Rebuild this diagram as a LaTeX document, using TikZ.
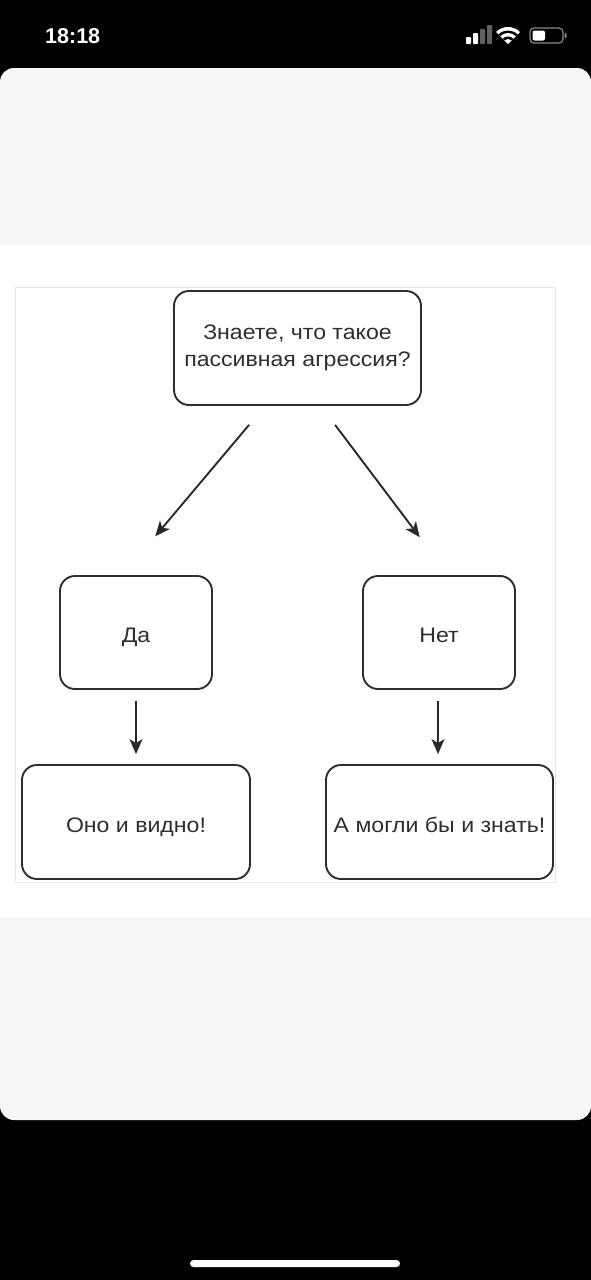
\documentclass[tikz,border=0pt]{standalone}
\usepackage{fontspec}
\setmainfont{Liberation Sans}
\newfontfamily\boxfont[FakeStretch=1.1]{Liberation Sans}
\usetikzlibrary{arrows.meta}
\definecolor{ink}{HTML}{2E2E2E}
\definecolor{cardgray}{HTML}{F7F7F7}
\definecolor{framegray}{HTML}{E6E6E6}
\definecolor{icongray}{HTML}{8A8A8A}
\tikzset{
  box/.style={draw=ink, line width=1.9pt, rounded corners=15pt, fill=white, text=ink,
    inner sep=0pt, font=\boxfont\fontsize{21}{27}\selectfont},
  oneline/.style={text height=20pt, text depth=0pt},
  arr/.style={draw=ink!90!black, line width=1.9pt, -{Stealth[length=15pt,width=13pt,inset=4pt]}},
}
\begin{document}
\begin{tikzpicture}[x=1pt,y=-1pt]
\useasboundingbox (0,0) rectangle (591,1280);
% phone background
\fill[black] (0,0) rectangle (591,1280);
% status bar
\node[text=white, anchor=west, font=\bfseries\fontsize{21.5}{21.5}\selectfont, inner sep=0pt] (clock) at (45,36) {18:18};
\fill[white, rounded corners=0.8pt] (466,37) rectangle (471,44);
\fill[white, rounded corners=0.8pt] (473,33) rectangle (478,44);
\fill[icongray!70!black, rounded corners=0.8pt] (480,29) rectangle (485,44);
\fill[icongray!70!black, rounded corners=0.8pt] (487,25) rectangle (492,44);
% wifi
\fill[white] (508,44) -- ++(225:17) arc[start angle=225,end angle=315,radius=17] -- cycle;
\fill[black] (508,44) -- ++(225:13.5) arc[start angle=225,end angle=315,radius=13.5] -- cycle;
\fill[white] (508,44) -- ++(225:11) arc[start angle=225,end angle=315,radius=11] -- cycle;
\fill[black] (508,44) -- ++(225:7.5) arc[start angle=225,end angle=315,radius=7.5] -- cycle;
\fill[white] (508,44) -- ++(225:5) arc[start angle=225,end angle=315,radius=5] -- cycle;
% battery
\draw[icongray, line width=1.2pt, rounded corners=4pt] (530,28) rectangle (563,43);
\fill[white, rounded corners=2pt] (532.5,30.5) rectangle (545,40.5);
\fill[icongray, rounded corners=0.8pt] (564.5,33) rectangle (566.5,38);
% card
\fill[cardgray, rounded corners=14pt] (0,68) rectangle (591,1120);
\fill[white] (0,245) rectangle (591,917);
% diagram frame
\draw[framegray, line width=1pt, fill=white] (15,287) rectangle (555,882);
% home indicator
\fill[white, rounded corners=3.5pt] (190,1260) rectangle (400,1267);

% nodes
\node[box, minimum width=247pt, minimum height=114pt] (q) at (297.5,348)
  {\raisebox{-3pt}{\begin{tabular}{@{}c@{}}Знаете, что такое\\пассивная агрессия?\end{tabular}}};
\node[box, oneline, minimum width=152pt, minimum height=113pt] (da) at (136,632.5) {Да};
\node[box, oneline, minimum width=152pt, minimum height=113pt] (net) at (439,632.5) {Нет};
\node[box, oneline, minimum width=228pt, minimum height=114pt] (ono) at (136,822) {Оно и видно!};
\node[box, oneline, minimum width=227pt, minimum height=114pt] (amog) at (439.5,822) {А могли бы и знать!};

% connectors
\draw[arr, shorten <=24.7pt, shorten >=50.7pt] ([xshift=-32.5pt]q.south) -- ([xshift=-13.4pt]da.north);
\draw[arr, shorten <=23.7pt, shorten >=47.4pt] ([xshift=23.3pt]q.south) -- ([xshift=9.3pt]net.north);
\draw[arr, shorten <=11pt, shorten >=10pt] (da.south) -- (ono.north);
\draw[arr, shorten <=11pt, shorten >=10pt] ([xshift=-1pt]net.south) -- ([xshift=-1.5pt]amog.north);
\end{tikzpicture}
\end{document}
